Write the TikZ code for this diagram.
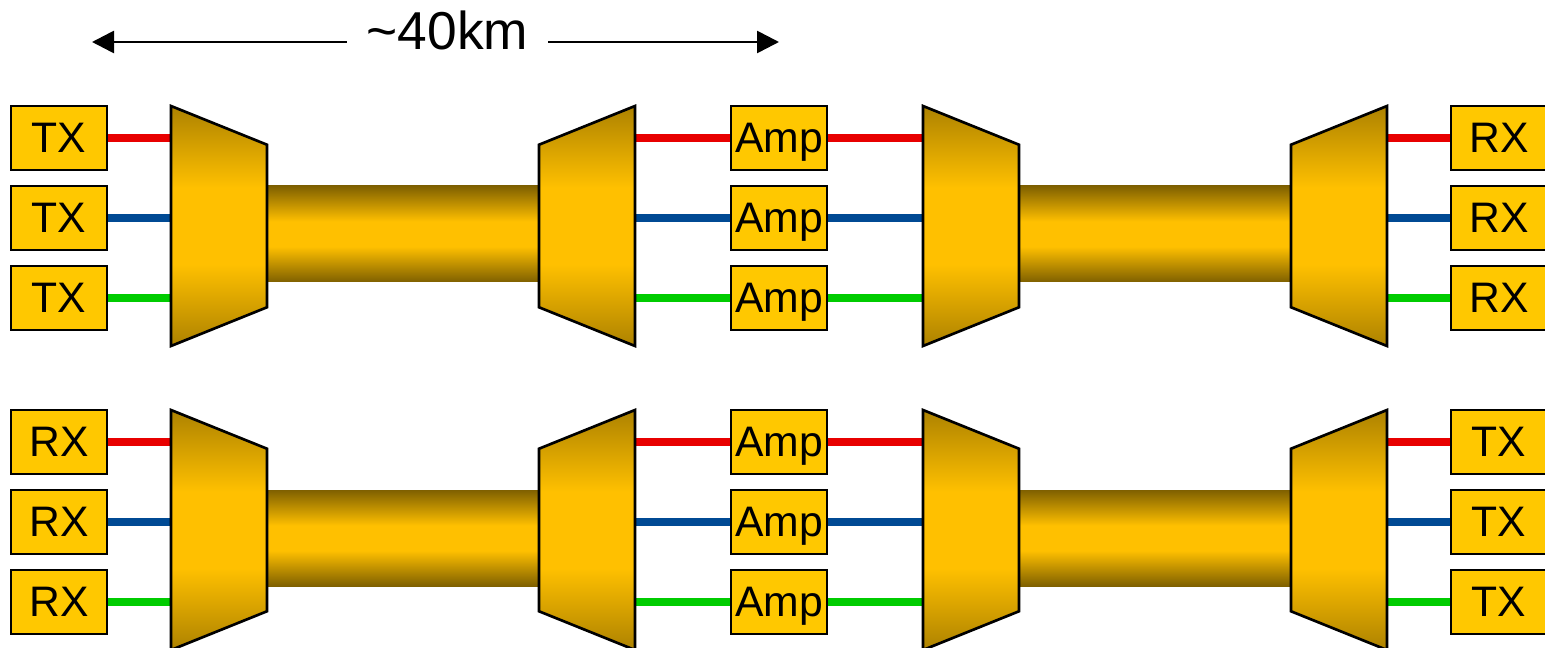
\documentclass[tikz,border=0pt]{standalone}
\usepackage{fontspec}
\setmainfont{Liberation Sans}
\usetikzlibrary{positioning,shapes.geometric,arrows.meta,backgrounds}
\definecolor{boxgold}{HTML}{FFC800}
\definecolor{midgold}{HTML}{FFC000}
\definecolor{muxedge}{HTML}{AD8200}
\definecolor{fibreedge}{HTML}{7F6000}
\definecolor{chred}{HTML}{E80000}
\definecolor{chblue}{HTML}{004A94}
\definecolor{chgreen}{HTML}{00CC00}
\pgfdeclareverticalshading{muxgold}{100bp}{color(0bp)=(muxedge); color(25bp)=(muxedge);
  color(42bp)=(midgold); color(58bp)=(midgold); color(75bp)=(muxedge); color(100bp)=(muxedge)}
\pgfdeclareverticalshading{fibregold}{100bp}{color(0bp)=(fibreedge); color(25bp)=(fibreedge);
  color(43.5bp)=(midgold); color(56.5bp)=(midgold); color(75bp)=(fibreedge); color(100bp)=(fibreedge)}

\begin{document}
\begin{tikzpicture}[
  x=0.75pt, y=-0.75pt,
  unit/.style ={draw=black, line width=2pt, fill=boxgold, inner sep=0pt, outer sep=0pt,
                minimum width=72pt, minimum height=48pt, align=center, text depth=0pt,
                font=\fontsize{32}{36}\selectfont},
  mux/.style  ={draw=black, line width=2pt, shading=muxgold, trapezium, inner sep=1pt,
                outer sep=0pt, trapezium left angle=76.6, trapezium right angle=76.6,
                trapezium stretches=true, minimum width=180pt, minimum height=72pt,
                shape border rotate=270},
  demux/.style={mux, shape border rotate=90},
  fibre/.style={shading=fibregold, inner sep=0pt, outer sep=0pt,
                minimum width=204pt, minimum height=72pt},
  chr/.style  ={draw=chred, line width=6pt},
  chb/.style  ={draw=chblue, line width=6pt},
  chg/.style  ={draw=chgreen, line width=6pt},
  arr/.style  ={-{Triangle[length=16.5pt,width=16.5pt]}, line width=2pt},
  node distance=12pt
]
\useasboundingbox (0,0) rectangle (1545,648);

% distance label
\node[font=\fontsize{40}{44}\selectfont, inner sep=0pt, minimum width=151pt] (span) at (447.5,30) {\textasciitilde 40km};
\coordinate (spanL) at (92,42);
\coordinate (spanR) at (779,42);
\draw[arr] (spanL -| span.west) -- (spanL);
\draw[arr] (spanR -| span.east) -- (spanR);

% upper path
\node[unit] (tx1) at (59,138) {TX};
\node[unit, below=of tx1] (tx2) {TX};
\node[unit, below=of tx2] (tx3) {TX};
\node[mux] (muxa) at (219,226) {};
\node[demux] (demuxa) at (587,226) {};
\node[unit] (amp1) at (779,138) {Amp};
\node[unit, below=of amp1] (amp2) {Amp};
\node[unit, below=of amp2] (amp3) {Amp};
\node[mux] (muxb) at (971,226) {};
\node[demux] (demuxb) at (1339,226) {};
\node[unit] (rx1) at (1499,138) {RX};
\node[unit, below=of rx1] (rx2) {RX};
\node[unit, below=of rx2] (rx3) {RX};

% lower path
\node[unit] (rx4) at (59,442) {RX};
\node[unit, below=of rx4] (rx5) {RX};
\node[unit, below=of rx5] (rx6) {RX};
\node[mux] (muxc) at (219,530) {};
\node[demux] (demuxc) at (587,530) {};
\node[unit] (amp4) at (779,442) {Amp};
\node[unit, below=of amp4] (amp5) {Amp};
\node[unit, below=of amp5] (amp6) {Amp};
\node[mux] (muxd) at (971,530) {};
\node[demux] (demuxd) at (1339,530) {};
\node[unit] (tx4) at (1499,442) {TX};
\node[unit, below=of tx4] (tx5) {TX};
\node[unit, below=of tx5] (tx6) {TX};

\begin{scope}[on background layer]
% fibres
\node[fibre] (fibrea) at (403,234) {};
\node[fibre] (fibreb) at (1155,234) {};
\node[fibre] (fibrec) at (403,538) {};
\node[fibre] (fibred) at (1155,538) {};

% channels, upper path
\draw[chr] (tx1.east) -- (tx1.east -| muxa.west);
\draw[chb] (tx2.east) -- (tx2.east -| muxa.west);
\draw[chg] (tx3.east) -- (tx3.east -| muxa.west);
\draw[chr] (amp1.west -| demuxa.east) -- (amp1.west);
\draw[chb] (amp2.west -| demuxa.east) -- (amp2.west);
\draw[chg] (amp3.west -| demuxa.east) -- (amp3.west);
\draw[chr] (amp1.east) -- (amp1.east -| muxb.west);
\draw[chb] (amp2.east) -- (amp2.east -| muxb.west);
\draw[chg] (amp3.east) -- (amp3.east -| muxb.west);
\draw[chr] (rx1.west -| demuxb.east) -- (rx1.west);
\draw[chb] (rx2.west -| demuxb.east) -- (rx2.west);
\draw[chg] (rx3.west -| demuxb.east) -- (rx3.west);

% channels, lower path
\draw[chr] (rx4.east) -- (rx4.east -| muxc.west);
\draw[chb] (rx5.east) -- (rx5.east -| muxc.west);
\draw[chg] (rx6.east) -- (rx6.east -| muxc.west);
\draw[chr] (amp4.west -| demuxc.east) -- (amp4.west);
\draw[chb] (amp5.west -| demuxc.east) -- (amp5.west);
\draw[chg] (amp6.west -| demuxc.east) -- (amp6.west);
\draw[chr] (amp4.east) -- (amp4.east -| muxd.west);
\draw[chb] (amp5.east) -- (amp5.east -| muxd.west);
\draw[chg] (amp6.east) -- (amp6.east -| muxd.west);
\draw[chr] (tx4.west -| demuxd.east) -- (tx4.west);
\draw[chb] (tx5.west -| demuxd.east) -- (tx5.west);
\draw[chg] (tx6.west -| demuxd.east) -- (tx6.west);
\end{scope}

\end{tikzpicture}
\end{document}
